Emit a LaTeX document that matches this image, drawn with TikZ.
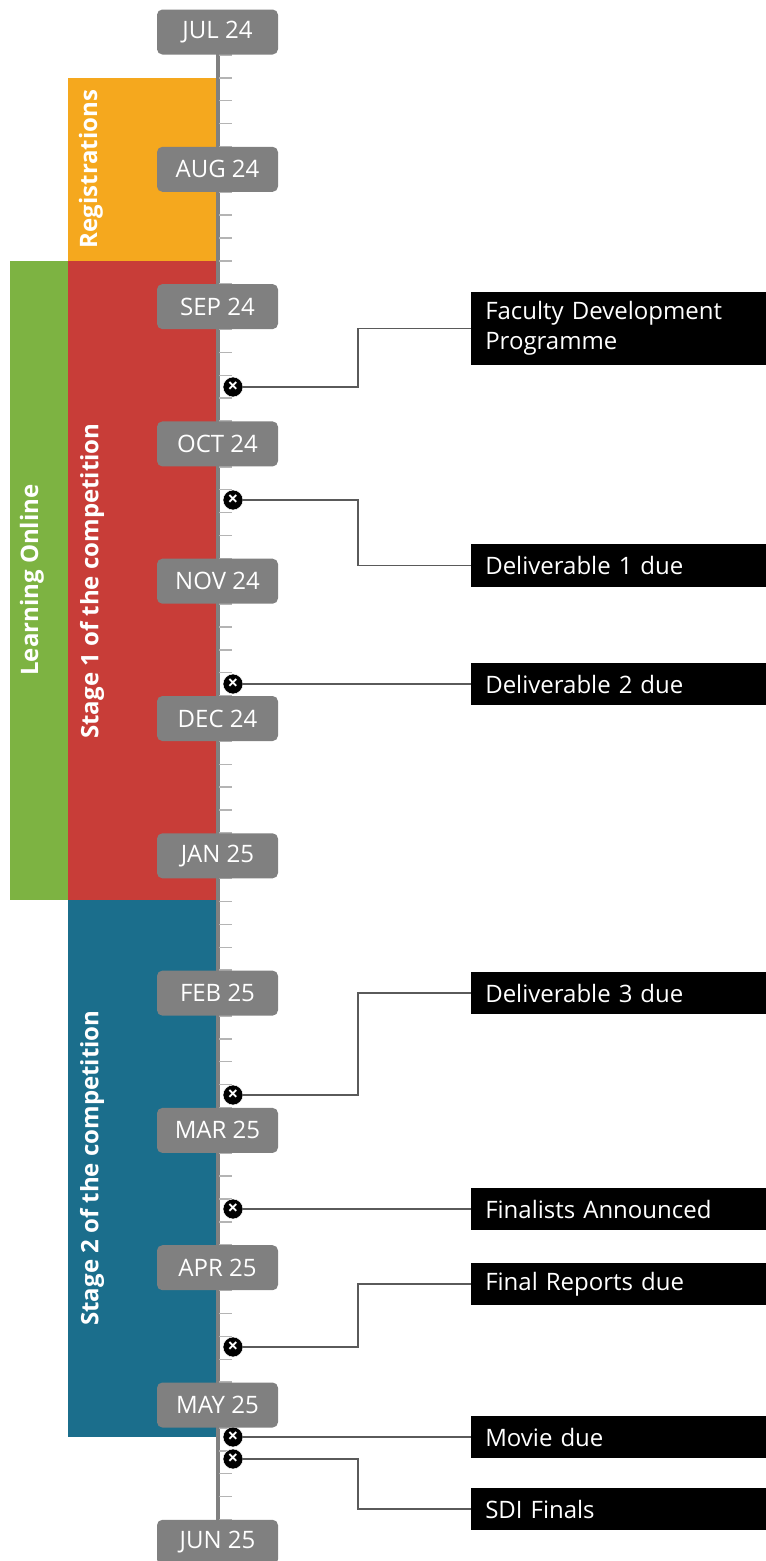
\documentclass[tikz,border=0pt]{standalone}
\usepackage{fontspec}
\setmainfont{Open Sans}
\usetikzlibrary{positioning, calc}

\definecolor{regorange}{HTML}{F5A81E}
\definecolor{learngreen}{HTML}{7DB342}
\definecolor{stagered}{HTML}{C83D38}
\definecolor{stageblue}{HTML}{1B6E8C}
\definecolor{monthgray}{HTML}{808080}
\definecolor{tickgray}{HTML}{B4B4B4}
\definecolor{wiregray}{HTML}{5A5A5A}

\begin{document}
\begin{tikzpicture}[
    x=0.75pt, y=-0.75pt,
    every node/.style={font=\fontsize{18}{22.5}\selectfont},
    month/.style={rectangle, rounded corners=4pt, fill=monthgray, text=white,
        minimum width=90.75pt, minimum height=33.75pt, inner sep=0pt},
    event/.style={rectangle, fill=black, text=white, anchor=west, align=left,
        text width=204pt, inner xsep=10.5pt, inner ysep=0pt, minimum height=32pt},
    evmark/.style={circle, fill=black, draw=white, line width=0.4pt, minimum size=15pt,
        inner sep=0pt, text=white, font=\fontsize{14}{14}\bfseries\selectfont},
    barlab/.style={rotate=90, text=white, font=\fontsize{18}{22}\bfseries\selectfont},
    axisln/.style={draw=monthgray, line width=3pt},
    tickln/.style={draw=tickgray, line width=1.1pt},
    wire/.style={draw=wiregray, line width=1.2pt},
]
    \useasboundingbox (0,0) rectangle (766,1561);

    % --- Axis geometry (pixel grid, y grows downwards) ---
    \def\Ax{217.5}  % timeline x
    \def\yJul{32}   % centre of first month box
    \def\dM{137.3}  % one month
    \def\Mx{233}    % event markers
    \def\Ex{358}    % elbow of the wires
    \def\Lx{471}    % west side of event labels

    % --- Phase bars ---
    \fill[regorange]  (68,78)  rectangle (216,261);
    \fill[learngreen] (10,261) rectangle (68,900);
    \fill[stagered]   (68,261) rectangle (216,900);
    \fill[stageblue]  (68,900) rectangle (216,1437);
    \node[barlab] (reg)    at (91,169)  {Registrations};
    \node[barlab] (learn)  at (32,580)  {Learning Online};
    \node[barlab] (stageA) at (92,581)  {Stage 1 of the competition};
    \node[barlab] (stageB) at (92,1168) {Stage 2 of the competition};

    % --- Timeline with sixth-of-a-month ticks ---
    \draw[axisln] (\Ax,\yJul) -- (\Ax,\yJul+11*\dM);
    \foreach \i in {0,...,10} {
        \foreach \k in {1,...,5} {
            \draw[tickln] (\Ax+1.5, \yJul+\i*\dM+\k*\dM/6) -- ++(13,0);
        }
    }

    % --- Event labels ---
    \node[event, minimum height=55pt] (fdp) at (\Lx,328.5) {Faculty Development\\Programme};
    \node[event] (delA)   at (\Lx,565.5) {Deliverable 1 due};
    \node[event] (delB)   at (\Lx,684)   {Deliverable 2 due};
    \node[event] (delC)   at (\Lx,993)   {Deliverable 3 due};
    \node[event] (final)  at (\Lx,1209)  {Finalists Announced};
    \node[event] (report) at (\Lx,1284)  {Final Reports due};
    \node[event] (movie)  at (\Lx,1437)  {Movie due};
    \node[event] (sdi)    at (\Lx,1509)  {SDI Finals};

    % --- Event markers ---
    \node[evmark] (mfdp)    at (\Mx,387)  {×};
    \node[evmark] (mdelA)   at (\Mx,500)  {×};
    \node[evmark] (mdelB)   at (\Mx,684)  {×};
    \node[evmark] (mdelC)   at (\Mx,1095) {×};
    \node[evmark] (mfinal)  at (\Mx,1209) {×};
    \node[evmark] (mreport) at (\Mx,1347) {×};
    \node[evmark] (mmovie)  at (\Mx,1437) {×};
    \node[evmark] (msdi)    at (\Mx,1459) {×};

    % --- Wiring ---
    \coordinate (elb) at (\Ex,0);
    \draw[wire] (mfdp.east) -- (mfdp.east -| elb) |- (fdp.west);
    \draw[wire] (mdelA.east) -- (mdelA.east -| elb) |- (delA.west);
    \draw[wire] (mdelB.east) -- (delB.west);
    \draw[wire] (mdelC.east) -- (mdelC.east -| elb) |- (delC.west);
    \draw[wire] (mfinal.east) -- (final.west);
    \draw[wire] (mreport.east) -- (mreport.east -| elb) |- (report.west);
    \draw[wire] (mmovie.east) -- (movie.west);
    \draw[wire] (msdi.east) -- (msdi.east -| elb) |- (sdi.west);

    % --- Month boxes ---
    \foreach \m [count=\i from 0] in {JUL 24, AUG 24, SEP 24, OCT 24, NOV 24, DEC 24,
                                      JAN 25, FEB 25, MAR 25, APR 25, MAY 25, JUN 25} {
        \node[month] (mo\i) at (\Ax, \yJul+\i*\dM) {\m};
    }
\end{tikzpicture}
\end{document}
